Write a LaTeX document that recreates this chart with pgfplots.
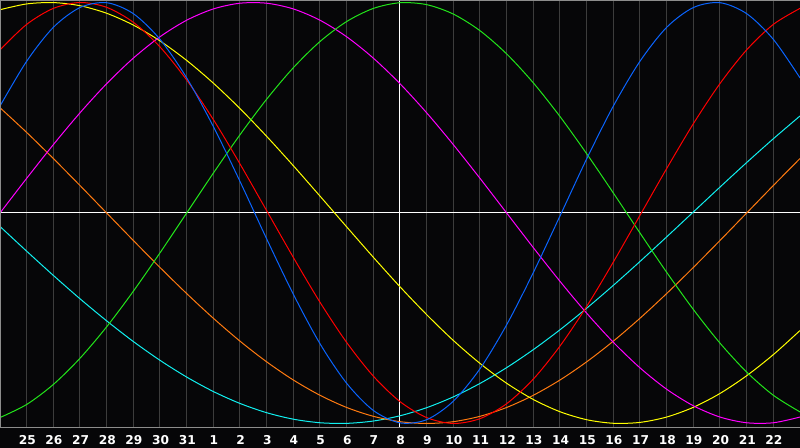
\documentclass[border=0pt]{standalone}
\usepackage{pgfplots}
\pgfplotsset{compat=1.18}
\usepackage{fontspec}
\newfontfamily\labelfont{DejaVu Sans}

\definecolor{bgblack}{HTML}{060608}
\definecolor{gridgray}{HTML}{3C3C3C}
\definecolor{bordergray}{HTML}{8C8C8C}
\definecolor{cblue}{HTML}{0A64FF}
\definecolor{cred}{HTML}{FF0000}
\definecolor{cgreen}{HTML}{22E41A}
\definecolor{cyellow}{HTML}{FFFF00}
\definecolor{cmagenta}{HTML}{FF00FF}
\definecolor{corange}{HTML}{FF7A10}
\definecolor{ccyan}{HTML}{10F0F0}

\begin{document}
\begin{tikzpicture}
  \fill[bgblack] (0,-10pt) rectangle (400pt,214pt);
  \begin{axis}[
      at={(0,0)}, anchor=south west,
      scale only axis,
      width=400pt, height=214pt,
      xmin=-15, xmax=15,
      ymin=-1.0214, ymax=1.0119,
      axis line style={draw=none},
      major tick length=0pt,
      ytick=\empty,
      xtick={-14,-13,-12,-11,-10,-9,-8,-7,-6,-5,-4,-3,-2,-1,1,2,3,4,5,6,7,8,9,10,11,12,13,14},
      xticklabels={25,26,27,28,29,30,31,1,2,3,4,5,6,7,9,10,11,12,13,14,15,16,17,18,19,20,21,22},
      extra x ticks={0},
      extra x tick labels={8},
      xmajorgrids=true,
      major grid style={color=gridgray, line width=0.5pt},
      extra x tick style={major grid style={color=white, line width=0.5pt}},
      xticklabel style={font=\labelfont\bfseries\fontsize{6.1}{7}\selectfont,
        text=white, anchor=center, yshift=-5.85pt, xshift=0.3pt},
      every axis plot/.append style={line width=0.5pt, mark=none, smooth},
    ]
    \draw[white, line width=0.5pt] (axis cs:-15,0) -- (axis cs:15,0);

    % cyan
    \addplot[color=ccyan] coordinates {
      (-15,-0.0640)(-14,-0.1815)(-13,-0.2965)(-12,-0.4075)(-11,-0.5124)(-10,-0.6106)
      (-9,-0.6999)(-8,-0.7794)(-7,-0.8481)(-6,-0.9048)(-5,-0.9488)(-4,-0.9795)
      (-3,-0.9965)(-2,-0.9994)(-1,-0.9883)(0,-0.9634)(1,-0.9249)(2,-0.8735)
      (3,-0.8097)(4,-0.7346)(5,-0.6491)(6,-0.5547)(7,-0.4524)(8,-0.3438)
      (9,-0.2303)(10,-0.1135)(11,0.0047)(12,0.1231)(13,0.2396)(14,0.3527)(15,0.4608)
    };
    % orange
    \addplot[color=corange] coordinates {
      (-15,0.5)(-14,0.3827)(-13,0.2588)(-12,0.1305)(-11,0)(-10,-0.1305)
      (-9,-0.2588)(-8,-0.3827)(-7,-0.5)(-6,-0.6088)(-5,-0.7071)(-4,-0.7934)
      (-3,-0.8660)(-2,-0.9239)(-1,-0.9659)(0,-0.9914)(1,-1)(2,-0.9914)
      (3,-0.9659)(4,-0.9239)(5,-0.8660)(6,-0.7934)(7,-0.7071)(8,-0.6088)
      (9,-0.5)(10,-0.3827)(11,-0.2588)(12,-0.1305)(13,0)(14,0.1305)(15,0.2588)
    };
    % yellow
    \addplot[color=cyellow] coordinates {
      (-15,0.9656)(-14,0.9932)(-13,0.9996)(-12,0.9847)(-11,0.9488)(-10,0.8927)
      (-9,0.8175)(-8,0.7249)(-7,0.6170)(-6,0.4960)(-5,0.3641)(-4,0.2246)
      (-3,0.0802)(-2,-0.0658)(-1,-0.2103)(0,-0.3504)(1,-0.4829)(2,-0.6055)
      (3,-0.7146)(4,-0.8090)(5,-0.8860)(6,-0.9441)(7,-0.9820)(8,-0.9990)
      (9,-0.9948)(10,-0.9693)(11,-0.9232)(12,-0.8573)(13,-0.7731)(14,-0.6728)(15,-0.5584)
    };
    % magenta
    \addplot[color=cmagenta] coordinates {
      (-15,0)(-14,0.1646)(-13,0.3247)(-12,0.4759)(-11,0.6142)(-10,0.7357)
      (-9,0.8372)(-8,0.9158)(-7,0.9694)(-6,0.9966)(-5,0.9966)(-4,0.9694)
      (-3,0.9158)(-2,0.8372)(-1,0.7357)(0,0.6142)(1,0.4759)(2,0.3247)
      (3,0.1646)(4,0)(5,-0.1646)(6,-0.3247)(7,-0.4759)(8,-0.6142)
      (9,-0.7357)(10,-0.8372)(11,-0.9158)(12,-0.9694)(13,-0.9966)(14,-0.9966)(15,-0.9694)
    };
    % green
    \addplot[color=cgreen] coordinates {
      (-15,-0.9718)(-14,-0.9096)(-13,-0.8146)(-12,-0.6901)(-11,-0.5407)(-10,-0.3717)
      (-9,-0.1893)(-8,0)(-7,0.1893)(-6,0.3717)(-5,0.5407)(-4,0.6901)
      (-3,0.8146)(-2,0.9096)(-1,0.9718)(0,0.9989)(1,0.9898)(2,0.9450)
      (3,0.8660)(4,0.7557)(5,0.6182)(6,0.4582)(7,0.2817)(8,0.0951)
      (9,-0.0951)(10,-0.2817)(11,-0.4582)(12,-0.6182)(13,-0.7557)(14,-0.8660)(15,-0.9450)
    };
    % red
    \addplot[color=cred] coordinates {
      (-15,0.775)(-14,0.896)(-13,0.972)(-12,1.000)(-11,0.977)(-10,0.906)
      (-9,0.789)(-8,0.632)(-7,0.444)(-6,0.233)(-5,0.011)(-4,-0.211)
      (-3,-0.424)(-2,-0.615)(-1,-0.775)(0,-0.896)(1,-0.972)(2,-1.000)
      (3,-0.977)(4,-0.906)(5,-0.789)(6,-0.632)(7,-0.444)(8,-0.233)
      (9,-0.011)(10,0.211)(11,0.424)(12,0.615)(13,0.775)(14,0.896)(15,0.972)
    };
    % blue
    \addplot[color=cblue] coordinates {
      (-15,0.508)(-14,0.721)(-13,0.882)(-12,0.976)(-11,0.999)(-10,0.947)
      (-9,0.825)(-8,0.642)(-7,0.411)(-6,0.150)(-5,-0.123)(-4,-0.386)
      (-3,-0.621)(-2,-0.809)(-1,-0.938)(0,-0.997)(1,-0.982)(2,-0.894)
      (3,-0.740)(4,-0.531)(5,-0.283)(6,-0.014)(7,0.257)(8,0.508)
      (9,0.721)(10,0.882)(11,0.976)(12,0.999)(13,0.947)(14,0.825)(15,0.642)
    };
  \end{axis}
  \draw[bordergray, line width=0.5pt] (400pt,0.25pt) -- (0.25pt,0.25pt) -- (0.25pt,213.75pt) -- (400pt,213.75pt);
  \pgfresetboundingbox
  \useasboundingbox (0,-10pt) rectangle (400pt,214pt);
\end{tikzpicture}
\end{document}
